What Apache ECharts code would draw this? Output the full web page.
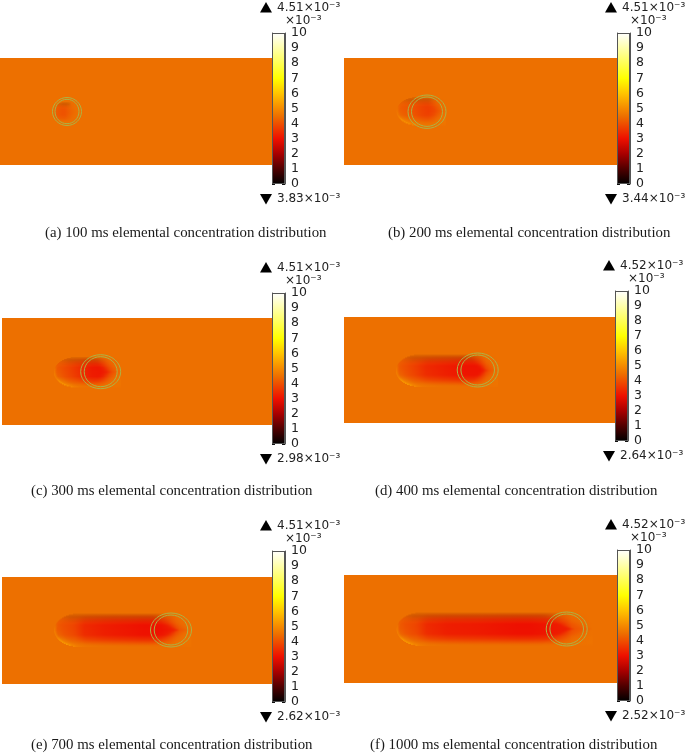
<!DOCTYPE html>
<html><head><meta charset="utf-8">
<script src="https://cdn.jsdelivr.net/npm/echarts@6/dist/echarts.min.js"></script>
<style>html,body{margin:0;padding:0;background:#fff}#c{width:685px;height:755px}</style>
</head><body><div id="c"></div>
<script>
// ---------- values ----------
const captions = [
  '(a) 100 ms elemental concentration distribution',
  '(b) 200 ms elemental concentration distribution',
  '(c) 300 ms elemental concentration distribution',
  '(d) 400 ms elemental concentration distribution',
  '(e) 700 ms elemental concentration distribution',
  '(f) 1000 ms elemental concentration distribution'
];
const maxLabels = ['4.51×10⁻³','4.51×10⁻³','4.51×10⁻³','4.52×10⁻³','4.51×10⁻³','4.52×10⁻³'];
const minLabels = ['3.83×10⁻³','3.44×10⁻³','2.98×10⁻³','2.64×10⁻³','2.62×10⁻³','2.52×10⁻³'];
const unitLabel = '×10⁻³';
const baseConc = 4.5;

// colour scale (concentration, colour)
const scaleValues = [0,1,2,3,4,4.5,5,6,7,8,9,10];
const scaleColors = ['#000000','#500000','#a80000','#ee1000','#ee5000','#ed7000','#f58a00','#ffc400','#ffff00','#ffff55','#ffffaa','#ffffff'];

// centre-line concentration behind the source, by distance from the tail's start
const stationsA = [0,3,8,12,18,24];
const concA     = [4.42,4.2,4.05,4.05,4.3,4.5];
const stationsB = [0,2,6,15,25,32,38,43,49];
const concB     = [4.5,4.25,4.15,4.05,3.8,3.7,3.85,4.15,4.5];
const stationsC = [0,2,6,15,25,38,48,53,58,62,67];
const concC     = [4.6,4.15,4.05,3.8,3.5,3.15,3.1,3.35,3.95,4.2,4.5];
const stationsD = [0,2,8,20,30,50,70,85,89,92,97,102];
const concD     = [4.6,4.15,4.0,3.7,3.4,3.2,3.05,3.05,3.35,3.95,4.2,4.5];
const stationsE = [0,2,8,20,30,50,90,108,118,122,125,131,137];
const concE     = [4.6,4.15,4.0,3.8,3.4,3.2,3.0,3.0,3.2,3.45,4.0,4.25,4.5];
const stationsF = [0,2,8,20,30,50,80,120,137,155,170,174,177,190,196];
const concF     = [4.6,4.15,4.0,3.8,3.4,3.2,3.15,3.0,3.0,3.1,3.2,3.45,4.0,4.25,4.5];
const stations = [stationsA,stationsB,stationsC,stationsD,stationsE,stationsF];
const concs    = [concA,concB,concC,concD,concE,concF];

// cross-section of the tail (top -1 ... bottom +1)
const crossPos    = [-1,-0.85,-0.6,-0.3,0,0.3,0.6,0.85,1];
const crossWeight = [0,0.3,0.72,1,1,1,0.7,0.25,0];
// bright rim on the lower-left edge
const rimPos   = [-1,-0.3,0,0.3,0.6,0.85,1];
const rimBoost = [0,0.02,0.15,0.4,1.0,1.0,0.4];
const rimFadeS = [0,3,10,30,60,150];
const rimFadeV = [1,0.55,0.25,0.14,0.08,0.05];
// darker upper edge
const shadePos = [-1,-0.8,-0.6,-0.4];
const shadeVal = [0.95,0.88,0.95,1];

// ---------- layout ----------
const plateLeft   = [0,344,2,344,2,344];
const plateTop    = [58,58,318,317,577,575];
const plateWidth  = [272,273,270,271,270,273];
const plateHeight = [107,107,107,106,107,108];
const barLeft     = [272,617,272,615,272,617];
const barTop      = [33,33,293,291,551,550];
const barBottom   = [184,184,444,441,702,701];
const captionLeft = [45,388,31,375,31,370];
const captionY    = [233,233,491,491,745,745];
// tail / source geometry, in plate units
const tailStart = [53,52.7,52,52,52.3,52.7];
const tailMidY  = [54,53,54,53.5,53,54];
const tailHalf  = [10,14,15,16,16.5,16.5];
const tailTip   = [19,41,54,89,122,174];
const tailWedge = [4,9,12,14,22,26];
const rimScale  = [0,0.8,0.9,1,1,1];
const ringX  = [67,83,98.7,133.7,169,222.7];
const ringY  = [53.5,53.7,53.7,53,53,54];
const ringRx = [14.5,19,20,20.5,20.5,20.5];
const ringRy = [14,16.7,17,17,17,17];
const ringGapX = [2.5,3.5,3.5,3.7,3.7,3.7];
const ringGapY = [1.8,2,2,2,2,2];

// ---------- helpers ----------
function table(xs, ys, x) {
  if (x <= xs[0]) return ys[0];
  for (let i = 1; i < xs.length; i++) {
    if (x <= xs[i]) return ys[i-1] + (ys[i]-ys[i-1])*(x-xs[i-1])/(xs[i]-xs[i-1]);
  }
  return ys[ys.length-1];
}
function concColor(v, shade) {
  let i = 1;
  while (i < scaleValues.length-1 && v > scaleValues[i]) i++;
  const f = Math.max(0, Math.min(1, (v-scaleValues[i-1])/(scaleValues[i]-scaleValues[i-1])));
  const c = echarts.color.parse(echarts.color.lerp(f, [scaleColors[i-1], scaleColors[i]]));
  return 'rgb(' + [0,1,2].map(k => Math.round(c[k]*shade)).join(',') + ')';
}
const clamp01 = x => Math.max(0, Math.min(1, x));

const grids = [], xAxes = [], yAxes = [], series = [], graphics = [];
const serif = '"Liberation Serif","Times New Roman",serif';
const sans = '"DejaVu Sans",sans-serif';

captions.forEach((cap, p) => {
  // plate grid
  const g = grids.length;
  grids.push({left: plateLeft[p], top: plateTop[p], width: plateWidth[p], height: plateHeight[p]});
  xAxes.push({type:'value', gridIndex:g, min:0, max:plateWidth[p], show:false});
  yAxes.push({type:'value', gridIndex:g, min:0, max:plateHeight[p], inverse:true, show:false});
  const yIndex = yAxes.length-1;
  const xIndex = xAxes.length-1;

  series.push({
    type:'custom', name:'plate '+p, xAxisIndex:xIndex, yAxisIndex:yIndex, z:1, silent:true,
    data:[[0,0,plateWidth[p],plateHeight[p]]],
    renderItem:(params, api) => {
      const a = api.coord([api.value(0), api.value(1)]);
      const b = api.coord([api.value(2), api.value(3)]);
      return {type:'rect', shape:{x:a[0],y:a[1],width:b[0]-a[0],height:b[1]-a[1]},
        style:{fill:concColor(baseConc,1)}};
    }
  });

  // tail: one horizontal strip per row, coloured through the scale
  const st = stations[p], cn = concs[p];
  const nRows = Math.round(tailHalf[p]*2);
  const rows = Array.from({length:nRows}, (_, i) => [i]);
  const lastS = st[st.length-1];
  const tip = tailTip[p], wedge = tailWedge[p];
  const stationAt = s => s >= lastS ? baseConc : table(st, cn, Math.max(s, 0));
  series.push({
    type:'custom', name:'tail '+p, xAxisIndex:xIndex, yAxisIndex:yIndex, z:2, silent:true,
    data:rows,
    renderItem:(params, api) => {
      const t = -1 + 2*(api.value(0)+0.5)/nRows;
      const y0 = tailMidY[p] + t*tailHalf[p];
      const R = Math.min(tailHalf[p]*1.5, lastS*0.5);
      const s0 = R*(1-Math.sqrt(Math.max(0,1-t*t)));
      const L = lastS - s0;
      if (L <= 0) return null;
      const stops = [];
      const n = Math.max(2, Math.ceil(L/3));
      const soften = wedge*Math.abs(t)*0.8;
      for (let i = 0; i <= n; i++) {
        const r = i/n, s = s0 + r*L;
        const shift = wedge*Math.abs(t)*clamp01((s-(tip-2*wedge))/(2*wedge));
        const sp = s + shift - s0*0.15;
        // off-centre rows leave the tip region more gently
        const inTip = clamp01((s-(tip-2*wedge))/wedge);
        const b = soften*inTip;
        const stationV = (stationAt(sp-b)+stationAt(sp-b/2)+stationAt(sp)+stationAt(sp+b/2)+stationAt(sp+b))/5;
        let v = baseConc + (stationV-baseConc)*table(crossPos, crossWeight, t);
        v += rimScale[p]*table(rimPos, rimBoost, t)*table(rimFadeS, rimFadeV, s-s0);
        const sh = table(shadePos, shadeVal, t);
        const fade = clamp01(s/tailHalf[p])*clamp01((tip-s)/wedge);
        stops.push({offset:r, color:concColor(v, 1-(1-sh)*fade)});
      }
      const a = api.coord([tailStart[p]+s0, y0-tailHalf[p]/nRows]);
      const b2 = api.coord([tailStart[p]+lastS, y0+tailHalf[p]/nRows]);
      return {type:'rect', shape:{x:a[0],y:a[1],width:b2[0]-a[0],height:b2[1]-a[1]+0.4},
        style:{fill:new echarts.graphic.LinearGradient(0,0,1,0,stops)}};
    }
  });

  // the double ring around the source
  series.push({
    type:'custom', name:'ring '+p, xAxisIndex:xIndex, yAxisIndex:yIndex, z:3, silent:true,
    data:[[ringX[p],ringY[p],ringRx[p],ringRy[p]],[ringX[p],ringY[p],ringRx[p]-ringGapX[p],ringRy[p]-ringGapY[p]]],
    renderItem:(params, api) => {
      const c = api.coord([api.value(0), api.value(1)]);
      const e = api.coord([api.value(0)+api.value(2), api.value(1)+api.value(3)]);
      return {type:'ellipse', shape:{cx:c[0],cy:c[1],rx:e[0]-c[0],ry:e[1]-c[1]},
        style:{fill:null, stroke:'#adb245', lineWidth:1}};
    }
  });

  // colour bar
  const cg = grids.length;
  grids.push({left: barLeft[p], top: barTop[p], width: 13, height: barBottom[p]-barTop[p]});
  xAxes.push({type:'category', gridIndex:cg, data:[''], show:false});
  const cx = xAxes.length-1;
  const tickAxis = (position, showLabel) => ({
    type:'value', gridIndex:cg, min:0, max:10, interval:1, position,
    splitLine:{show:false},
    axisLine:{show:true, onZero:false, lineStyle:{color:'#555', width:1}},
    axisTick:{show:true, inside:true, length:3, lineStyle:{color:'#111', width:1}},
    axisLabel:{show:showLabel, inside:false, margin:6, padding:[4,0,0,0], fontFamily:sans, fontSize:12.5, color:'#222'}
  });
  yAxes.push(tickAxis('right', true));
  const cy = yAxes.length-1;
  yAxes.push(tickAxis('left', false));
  const gradStops = scaleValues.map((v,i) => ({offset:1-v/10, color:scaleColors[i]})).reverse();
  series.push({
    type:'bar', name:'scale '+p, xAxisIndex:cx, yAxisIndex:cy, z:4, silent:true,
    barWidth:'100%', data:[10], animation:false,
    itemStyle:{color:new echarts.graphic.LinearGradient(0,0,0,1,gradStops), borderColor:'#555', borderWidth:1}
  });

  // max / min read-outs
  const tx = barLeft[p]-6, textX = barLeft[p]+5;
  const maxY = barTop[p]-25, minY = barBottom[p]+15, unitY = barTop[p]-12;
  graphics.push({type:'polygon', silent:true, shape:{points:[[tx,maxY-6],[tx+6,maxY+4.5],[tx-6,maxY+4.5]]}, style:{fill:'#000'}});
  graphics.push({type:'polygon', silent:true, shape:{points:[[tx-6,minY-5],[tx+6,minY-5],[tx,minY+5.5]]}, style:{fill:'#000'}});
  const tStyle = {fontFamily:sans, fontSize:12, fill:'#222', verticalAlign:'middle'};
  graphics.push({type:'text', silent:true, x:textX, y:maxY, style:Object.assign({text:maxLabels[p]}, tStyle)});
  graphics.push({type:'text', silent:true, x:textX, y:minY, style:Object.assign({text:minLabels[p]}, tStyle)});
  graphics.push({type:'text', silent:true, x:barLeft[p]+13, y:unitY, style:Object.assign({text:unitLabel}, tStyle)});
  graphics.push({type:'text', silent:true, x:captionLeft[p], y:captionY[p],
    style:{text:cap, fontFamily:serif, fontSize:14.85, fill:'#1a1a1a', verticalAlign:'middle'}});
});

const chart = echarts.init(document.getElementById('c'), null, {renderer:'canvas'});
chart.setOption({animation:false, backgroundColor:'#fff', grid:grids, xAxis:xAxes, yAxis:yAxes, series, graphic:{elements:graphics}});
</script></body></html>
